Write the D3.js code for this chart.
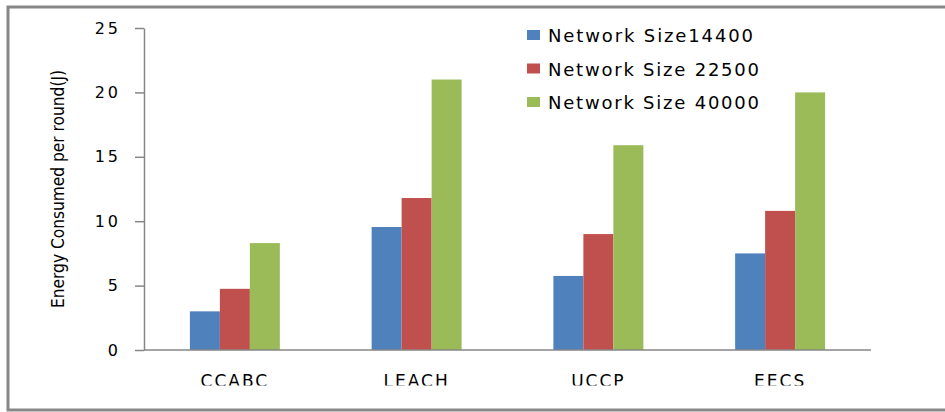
<!DOCTYPE html>
<html>
<head>
<meta charset="utf-8">
<script src="https://cdn.jsdelivr.net/npm/d3@7"></script>
<style>
  body { margin: 0; background: #fff; }
  svg { display: block; }
</style>
</head>
<body>
<div id="chart"></div>
<script>
const categories = ["CCABC", "LEACH", "UCCP", "EECS"];
const seriesNames = ["Network Size14400", "Network Size 22500", "Network Size 40000"];
const size14400 = [3.0, 9.55, 5.75, 7.5];
const size22500 = [4.75, 11.8, 9.0, 10.8];
const size40000 = [8.3, 21.0, 15.9, 20.0];
const yTicks = [0, 5, 10, 15, 20, 25];
const colors = ["#4f81bd", "#c0504d", "#9bbb59"];

const W = 945, H = 412;
const margin = { left: 144, right: 871, top: 28, bottom: 350 };

const rows = categories.map((c, i) => ({
    cat: c,
    values: [size14400[i], size22500[i], size40000[i]]
}));

const svg = d3.select("#chart").append("svg")
    .attr("width", W)
    .attr("height", H);

// outer frame (top, left, bottom only)
svg.append("path")
    .attr("d", `M${W},7 L8,7 L8,410 L${W},410`)
    .attr("fill", "none")
    .attr("stroke", "#878787")
    .attr("stroke-width", 3);

const x0 = d3.scaleBand()
    .domain(categories)
    .range([margin.left, margin.right])
    .paddingInner(0.505)
    .paddingOuter(0.2525);

const x1 = d3.scaleBand()
    .domain(d3.range(seriesNames.length))
    .range([0, x0.bandwidth()]);

const y = d3.scaleLinear().domain([0, 25]).range([margin.bottom, margin.top]);

// bars
const groups = svg.append("g").selectAll("g")
    .data(rows)
    .join("g")
    .attr("transform", d => `translate(${x0(d.cat)},0)`);

groups.selectAll("rect")
    .data(d => d.values.map((v, k) => ({ k, v })))
    .join("rect")
    .attr("x", d => x1(d.k))
    .attr("width", x1.bandwidth())
    .attr("y", d => y(d.v))
    .attr("height", d => y(0) - y(d.v))
    .attr("fill", d => colors[d.k]);

// y axis
const yAxis = svg.append("g")
    .attr("transform", `translate(${margin.left},0)`)
    .call(d3.axisLeft(y).tickValues(yTicks).tickSize(9).tickPadding(14).tickSizeOuter(0));
yAxis.select(".domain").attr("stroke", "#868686").attr("stroke-width", 1.5);
yAxis.selectAll(".tick line").attr("stroke", "#868686").attr("stroke-width", 1.5);
yAxis.selectAll(".tick text")
    .attr("font-family", "DejaVu Sans, Verdana, sans-serif")
    .attr("font-size", 16)
    .attr("letter-spacing", 3)
    .attr("fill", "#000");

// x baseline
svg.append("line")
    .attr("x1", margin.left).attr("x2", margin.right)
    .attr("y1", y(0)).attr("y2", y(0))
    .attr("stroke", "#868686")
    .attr("stroke-width", 1.5);

// x labels (clipped at bottom like the original)
svg.append("clipPath").attr("id", "xclip")
    .append("rect").attr("x", 0).attr("y", 360).attr("width", W).attr("height", 25.5);

svg.append("g").attr("clip-path", "url(#xclip)")
    .selectAll("text")
    .data(categories)
    .join("text")
    .attr("x", d => x0(d) + x0.bandwidth() / 2)
    .attr("y", 387)
    .attr("text-anchor", "middle")
    .attr("font-family", "DejaVu Sans, Verdana, sans-serif")
    .attr("font-size", 17)
    .attr("letter-spacing", 2)
    .text(d => d);

// y title
svg.append("text")
    .attr("transform", "translate(64,189) rotate(-90)")
    .attr("text-anchor", "middle")
    .attr("font-family", "DejaVu Sans Condensed, Liberation Sans Narrow, sans-serif")
    .attr("font-size", 18)
    .attr("font-weight", 500)
    .attr("textLength", 238)
    .attr("lengthAdjust", "spacingAndGlyphs")
    .text("Energy Consumed per round(J)");

// legend
const legend = svg.append("g").selectAll("g")
    .data(seriesNames)
    .join("g")
    .attr("transform", (d, i) => `translate(527,${35 + i * 33.5})`);

legend.append("rect")
    .attr("x", 0).attr("y", -5)
    .attr("width", 13).attr("height", 10)
    .attr("fill", (d, i) => colors[i]);

legend.append("text")
    .attr("x", 21)
    .attr("y", 7)
    .attr("font-family", "DejaVu Sans, Verdana, sans-serif")
    .attr("font-size", 18)
    .attr("textLength", (d, i) => [205, 211, 211][i])
    .attr("lengthAdjust", "spacing")
    .text(d => d);
</script>
</body>
</html>
